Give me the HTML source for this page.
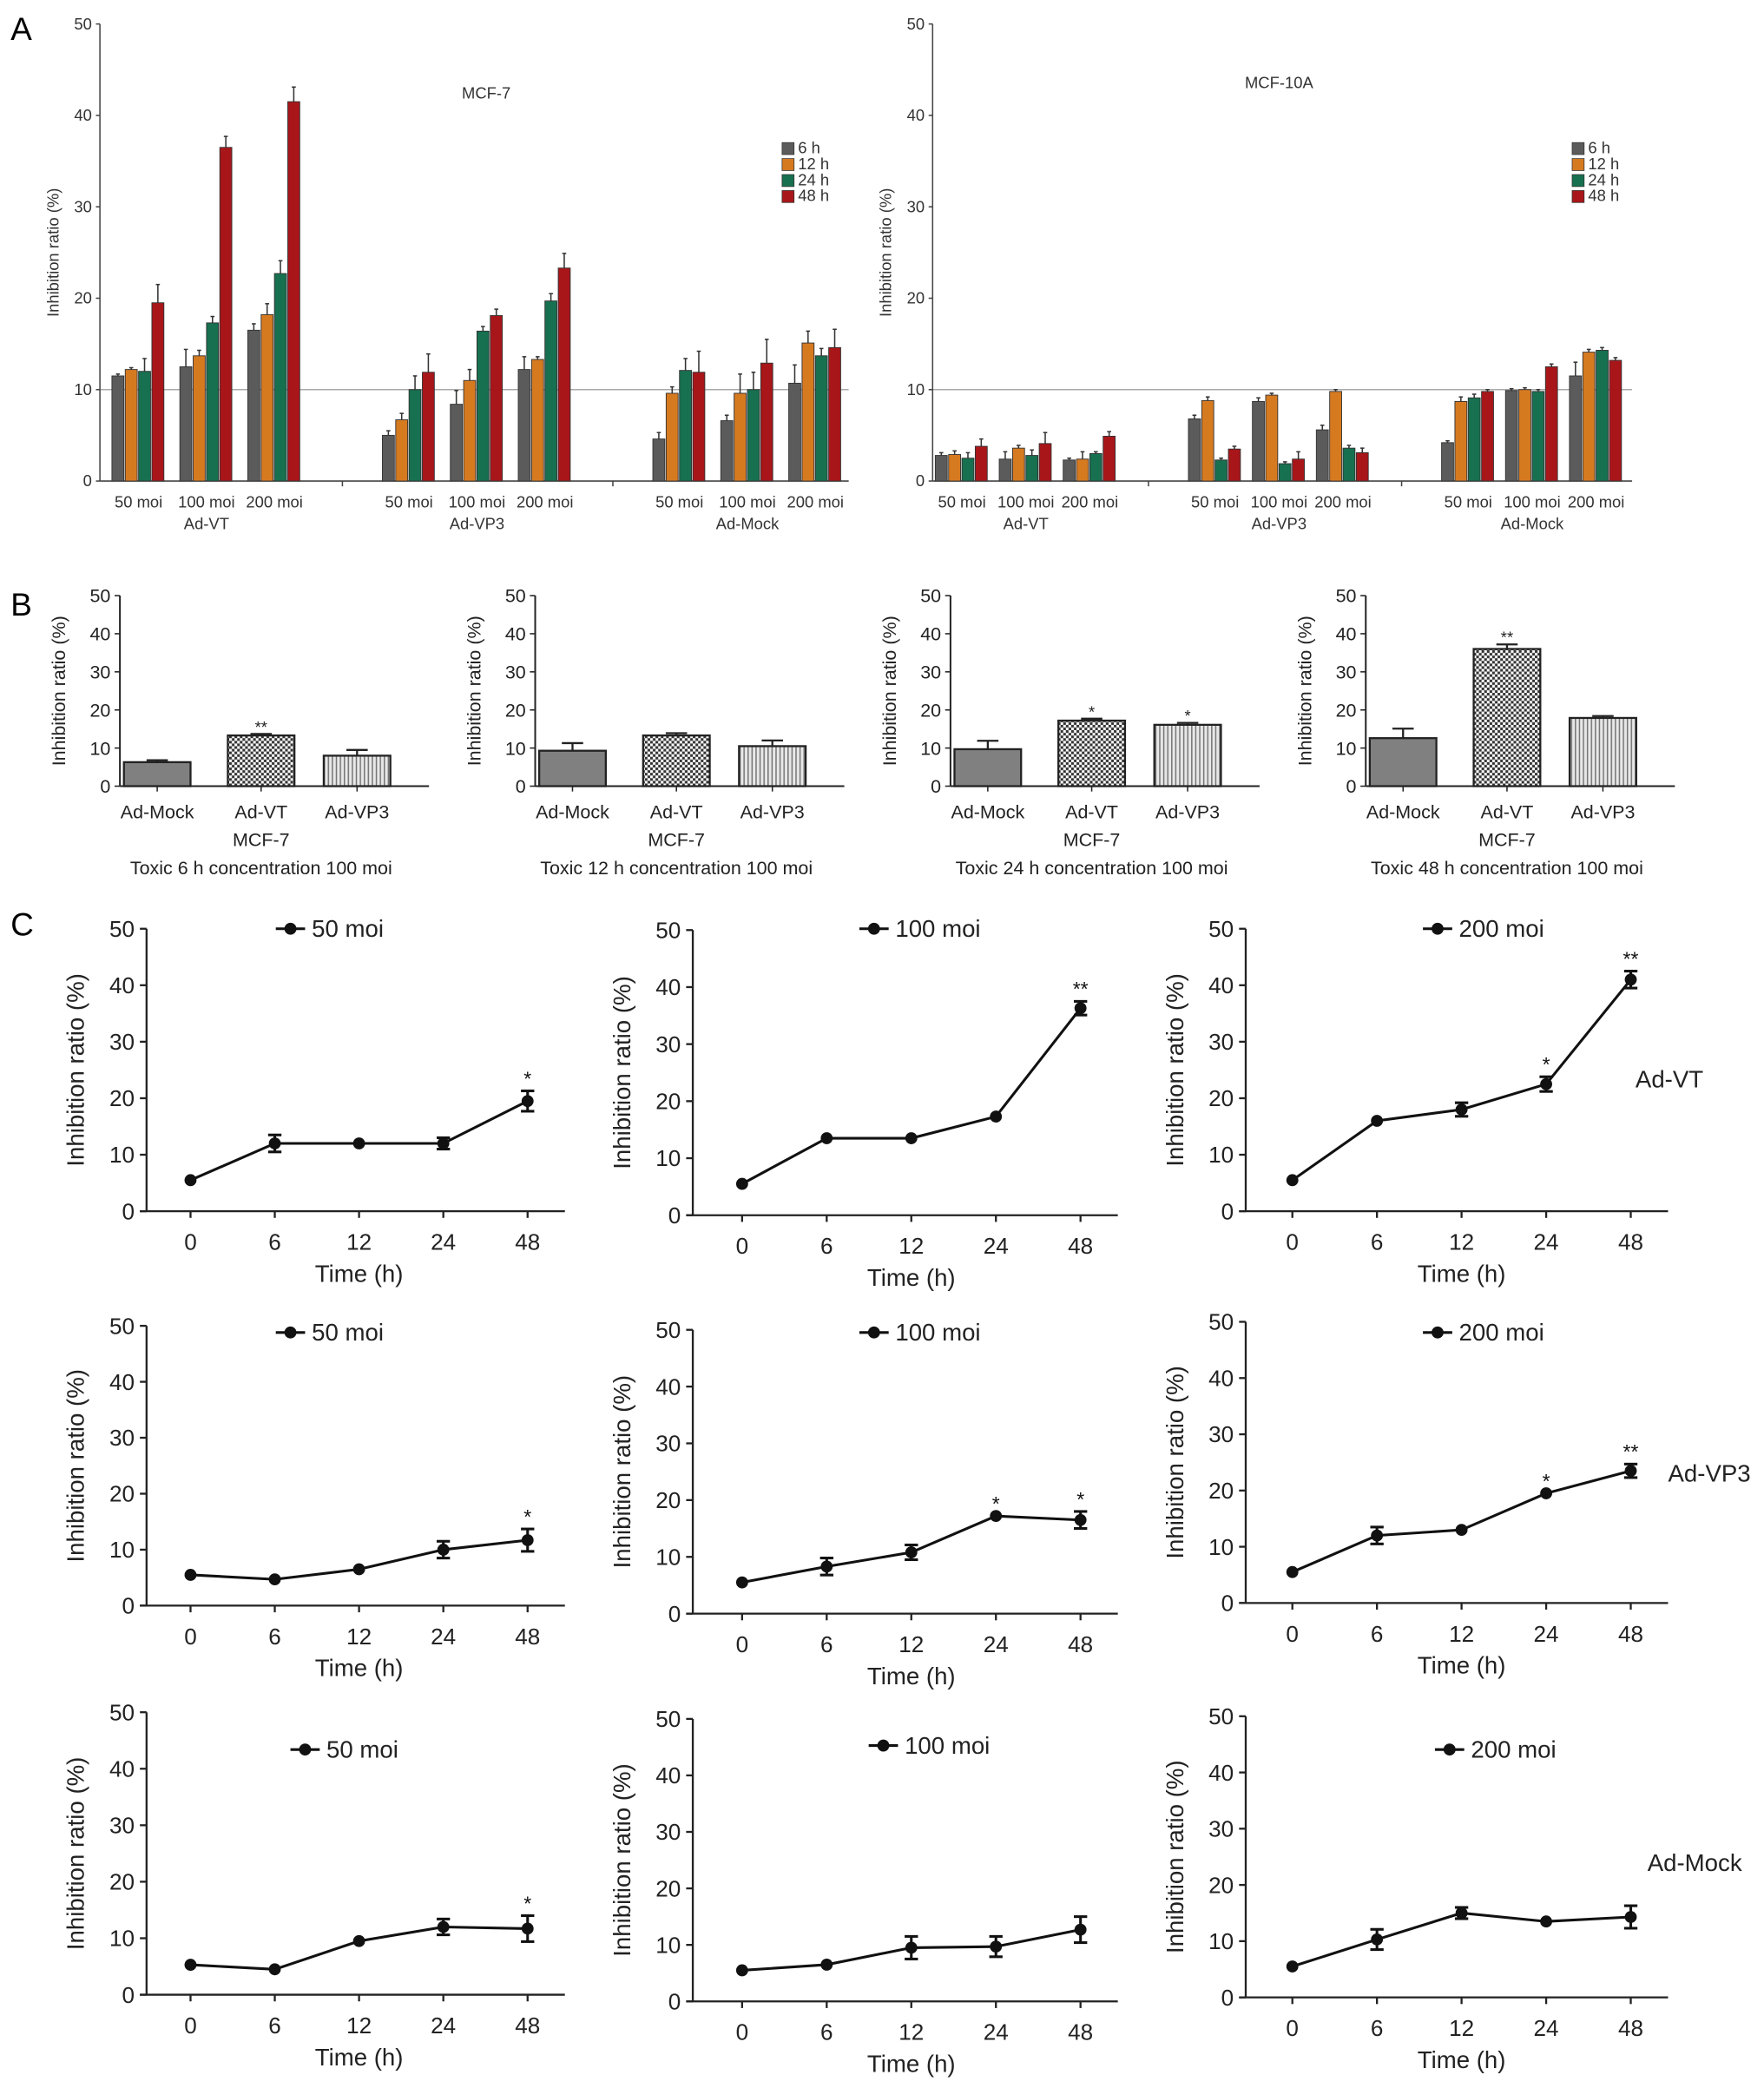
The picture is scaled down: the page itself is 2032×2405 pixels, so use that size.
<!DOCTYPE html>
<html><head><meta charset="utf-8">
<style>
html,body{margin:0;padding:0;background:#fff;}
svg{display:block;font-family:"Liberation Sans",Arial,sans-serif;}
</style></head>
<body>
<svg id="fig" width="2032" height="2405" viewBox="0 0 1324 1567" preserveAspectRatio="none" xmlns="http://www.w3.org/2000/svg">
<defs>
<pattern id="chk" width="4" height="4" patternUnits="userSpaceOnUse"><rect width="4" height="4" fill="#fff"/><rect width="2" height="2" fill="#333"/><rect x="2" y="2" width="2" height="2" fill="#333"/></pattern>
<pattern id="vst" width="3" height="4" patternUnits="userSpaceOnUse"><rect width="3" height="4" fill="#e8e8e8"/><rect width="1" height="4" fill="#777"/></pattern>
</defs>
<text x="8" y="30" font-size="24">A</text>
<text x="8" y="462" font-size="24">B</text>
<text x="8" y="702" font-size="24">C</text>
</svg>
<script>
// ---------- Panel A data ----------
const aTimes = ["6 h","12 h","24 h","48 h"];
const aGroups = ["Ad-VT","Ad-VP3","Ad-Mock"];
const aDoses = ["50 moi","100 moi","200 moi"];
const aTicks = [0,10,20,30,40,50];
const mcf7Vals = [[11.5,12.2,12,19.5],[12.5,13.7,17.3,36.5],[16.5,18.2,22.7,41.5],[5,6.7,10,11.9],[8.4,11,16.4,18.1],[12.2,13.3,19.7,23.3],[4.6,9.6,12.1,11.9],[6.6,9.6,10,12.9],[10.7,15.1,13.7,14.6]];
const mcf7Errs = [[0.2,0.2,1.4,2],[1.9,0.6,0.7,1.2],[0.7,1.2,1.4,1.6],[0.5,0.7,1.5,2],[1.5,1.2,0.5,0.7],[1.4,0.3,0.8,1.6],[0.7,0.7,1.3,2.3],[0.6,2.1,1.9,2.6],[2,1.3,0.8,2]];
const mcf10Vals = [[2.8,2.9,2.5,3.8],[2.4,3.6,2.8,4.1],[2.3,2.4,3,4.9],[6.8,8.8,2.3,3.5],[8.7,9.4,1.9,2.4],[5.6,9.8,3.6,3.1],[4.2,8.7,9.1,9.8],[9.9,10,9.8,12.5],[11.5,14.1,14.3,13.2]];
const mcf10Errs = [[0.3,0.4,0.6,0.8],[0.8,0.3,0.6,1.2],[0.2,0.8,0.2,0.5],[0.4,0.4,0.2,0.3],[0.4,0.2,0.2,0.8],[0.5,0.2,0.3,0.5],[0.2,0.5,0.4,0.2],[0.2,0.2,0.2,0.3],[1.5,0.3,0.3,0.3]];
// ---------- Panel B data ----------
const bCats = ["Ad-Mock","Ad-VT","Ad-VP3"];
const bTitles = ["Toxic 6 h concentration 100 moi","Toxic 12 h concentration 100 moi","Toxic 24 h concentration 100 moi","Toxic 48 h concentration 100 moi"];
const bVals = [[6.3,13.3,8],[9.3,13.3,10.5],[9.7,17.2,16.1],[12.6,36,17.9]];
const bErrs = [[0.5,0.4,1.5],[2,0.6,1.5],[2.2,0.5,0.5],[2.5,1.2,0.5]];
const bStars = [["","**",""],["","",""],["","*","*"],["","**",""]];
// ---------- Panel C data ----------
const cTimes = ["0","6","12","24","48"];
const cLegends = ["50 moi","100 moi","200 moi"];
const cRowLabels = ["Ad-VT","Ad-VP3","Ad-Mock"];
const cVals = [[5.5,12,12,12,19.5],[5.5,13.5,13.5,17.3,36.3],[5.5,16,18,22.5,41],[5.5,4.7,6.5,10,11.7],[5.5,8.3,10.8,17.2,16.5],[5.5,12,13,19.5,23.5],[5.3,4.5,9.5,12,11.7],[5.5,6.5,9.5,9.7,12.7],[5.5,10.3,15,13.5,14.3]];
const cErrs = [[0,1.5,0,1,1.8],[0,0,0,0,1.2],[0,0,1.2,1.3,1.5],[0,0,0,1.5,2],[0,1.5,1.3,0,1.5],[0,1.5,0,0,1.2],[0,0,0,1.4,2.3],[0,0,2,1.8,2.3],[0,1.8,1,0,2]];
const cStars = [["","","","","*"],["","","","","**"],["","","","*","**"],["","","","","*"],["","","","*","*"],["","","","*","**"],["","","","","*"],["","","","",""],["","","","",""]];

const NS="http://www.w3.org/2000/svg";
const svg=document.getElementById('fig');
function el(tag,attrs,parent,txt){const e=document.createElementNS(NS,tag);for(const k in attrs)e.setAttribute(k,attrs[k]);if(txt!==undefined)e.textContent=txt;(parent||svg).appendChild(e);return e;}

const aColors=["#5b5b5b","#d67a20","#17704f","#a8161a"];
function panelA(x0,xEnd,yTop,yBot,vals,errs,gStart,gStep,dStep,title,tx,ty,lx,ly){
  const g=el('g',{});
  
  
  const ys=v=>yBot-(v/50)*(yBot-yTop);
  el('line',{x1:x0,y1:ys(10),x2:xEnd,y2:ys(10),stroke:"#aaa","stroke-width":1},g);
  el('line',{x1:x0,y1:yTop,x2:x0,y2:yBot,stroke:"#444","stroke-width":1},g);
  el('line',{x1:x0,y1:yBot,x2:xEnd,y2:yBot,stroke:"#444","stroke-width":1},g);
  aTicks.forEach(t=>{el('line',{x1:x0-3,y1:ys(t),x2:x0,y2:ys(t),stroke:"#444"},g);
    const tl=el('text',{x:x0-6,y:ys(t)+4,"font-size":12,"text-anchor":"end",fill:"#333"},g,t);
    });
  const yl=el('text',{transform:`translate(${x0-31},${(yTop+yBot)/2}) rotate(-90)`,"font-size":12,"text-anchor":"middle",fill:"#333"},g,"Inhibition ratio (%)");
  
  for(let gi=0;gi<3;gi++){
    for(let d=0;d<3;d++){
      const c=gStart+gi*gStep+d*dStep, idx=gi*3+d;
      vals[idx].forEach((v,i)=>{
        const bx=c-20+i*10;
        const r=el('rect',{x:bx,y:ys(v),width:9,height:yBot-ys(v),fill:aColors[i],stroke:"#333","stroke-width":0.6},g);
        
        
        const ey=ys(v+errs[idx][i]);
        el('line',{x1:bx+4.5,y1:ys(v),x2:bx+4.5,y2:ey,stroke:"#333","stroke-width":1},g);
        el('line',{x1:bx+3,y1:ey,x2:bx+6,y2:ey,stroke:"#333","stroke-width":1},g);
      });
      const dl=el('text',{x:c,y:yBot+20,"font-size":12,"text-anchor":"middle",fill:"#333"},g,aDoses[d]);
      
    }
    const gl=el('text',{x:gStart+gi*gStep+dStep,y:yBot+36,"font-size":12,"text-anchor":"middle",fill:"#333"},g,aGroups[gi]);
    
    if(gi>0){const sx=gStart+gi*gStep-50;el('line',{x1:sx,y1:yBot,x2:sx,y2:yBot+4,stroke:"#444"},g);}
  }
  const tt=el('text',{x:tx,y:ty,"font-size":12,"text-anchor":"middle",fill:"#333"},g,title);
  
  aTimes.forEach((t,i)=>{
    const sw=el('rect',{x:lx,y:ly+i*12-8,width:9,height:9,fill:aColors[i],stroke:"#333","stroke-width":0.5},g);
    
    const lt=el('text',{x:lx+12,y:ly+i*12,"font-size":12,fill:"#333"},g,t);
    
  });
}
panelA(75,637,18,361,mcf7Vals,mcf7Errs,104,203,51,"MCF-7",365,74,587,115);
panelA(700,1225,18,361,mcf10Vals,mcf10Errs,722,190,48,"MCF-10A",960,66,1180,115);

// Panel B
const bFills=["#808080","url(#chk)","url(#vst)"];
for(let k=0;k<4;k++){
  const x0=90+k*311.7, yTop=447, yBot=590;
  const g=el('g',{});
  
  
  const ys=v=>yBot-(v/50)*(yBot-yTop);
  el('line',{x1:x0,y1:yTop,x2:x0,y2:yBot,stroke:"#222","stroke-width":1.3},g);
  el('line',{x1:x0,y1:yBot,x2:x0+232,y2:yBot,stroke:"#222","stroke-width":1.3},g);
  [0,10,20,30,40,50].forEach(t=>{el('line',{x1:x0-4,y1:ys(t),x2:x0,y2:ys(t),stroke:"#222"},g);
    const tl=el('text',{x:x0-7,y:ys(t)+5,"font-size":14,"text-anchor":"end",fill:"#222"},g,t);
    });
  const yl=el('text',{transform:`translate(${x0-41},${(yTop+yBot)/2}) rotate(-90)`,"font-size":14,"text-anchor":"middle",fill:"#222"},g,"Inhibition ratio (%)");
  
  const centers=[28,106,178];
  bVals[k].forEach((v,i)=>{
    const cx=x0+centers[i];
    const r=el('rect',{x:cx-25,y:ys(v),width:50,height:yBot-ys(v),fill:bFills[i],stroke:"#222","stroke-width":1.5},g);
    
    const ey=ys(v+bErrs[k][i]);
    el('line',{x1:cx,y1:ys(v),x2:cx,y2:ey,stroke:"#222","stroke-width":1.5},g);
    el('line',{x1:cx-8,y1:ey,x2:cx+8,y2:ey,stroke:"#222","stroke-width":1.5},g);
    el('line',{x1:cx,y1:yBot,x2:cx,y2:yBot+4,stroke:"#222"},g);
    if(bStars[k][i]){const s=el('text',{x:cx,y:ey-1,"font-size":12,"text-anchor":"middle",fill:"#222"},g,bStars[k][i]);
      }
    const cl=el('text',{x:cx,y:yBot+24,"font-size":14,"text-anchor":"middle",fill:"#222"},g,bCats[i]);
    
  });
  const m=el('text',{x:x0+106,y:yBot+45,"font-size":14,"text-anchor":"middle",fill:"#222"},g,"MCF-7");
  
  const t=el('text',{x:x0+106,y:yBot+66,"font-size":14,"text-anchor":"middle",fill:"#222"},g,bTitles[k]);
  
}

// Panel C
const cAxisX=[110,520,935];
const cT0=[143,557,970];
const cT48=[396,811,1224];
const cY50=[[697,698,697],[995,998,992],[1285,1290,1288]];
const cY0=[[909,912,909],[1205,1211,1203],[1497,1502,1499]];
const cLegX=[[207,645,1068],[207,645,1068],[218,652,1077]];
const cLegY=[[697,697,697],[1000,1000,1000],[1313,1310,1313]];
const cSideY=[810,1106,1398];
const cSideX=[1253,1283,1272];
for(let r=0;r<3;r++){for(let c=0;c<3;c++){
  const idx=r*3+c, ax=cAxisX[c], y0=cY0[r][c], y5=cY50[r][c];
  const g=el('g',{});
  
  
  const ys=v=>y0-(v/50)*(y0-y5);
  const xs=i=>cT0[c]+i*(cT48[c]-cT0[c])/4;
  el('line',{x1:ax,y1:y5,x2:ax,y2:y0,stroke:"#222","stroke-width":1.5},g);
  el('line',{x1:ax-5,y1:y0,x2:cT48[c]+28,y2:y0,stroke:"#222","stroke-width":1.5},g);
  [0,10,20,30,40,50].forEach(t=>{el('line',{x1:ax-5,y1:ys(t),x2:ax,y2:ys(t),stroke:"#222","stroke-width":1.5},g);
    const tl=el('text',{x:ax-9,y:ys(t)+6,"font-size":17,"text-anchor":"end",fill:"#222"},g,t);
    });
  cTimes.forEach((t,i)=>{el('line',{x1:xs(i),y1:y0,x2:xs(i),y2:y0+5,stroke:"#222","stroke-width":1.5},g);
    const tl=el('text',{x:xs(i),y:y0+29,"font-size":17,"text-anchor":"middle",fill:"#222"},g,t);
    });
  const xt=el('text',{x:(cT0[c]+cT48[c])/2,y:y0+53,"font-size":18,"text-anchor":"middle",fill:"#222"},g,"Time (h)");
  
  const yl=el('text',{transform:`translate(${ax-47},${(y0+y5)/2}) rotate(-90)`,"font-size":18,"text-anchor":"middle",fill:"#222"},g,"Inhibition ratio (%)");
  
  const pts=cVals[idx].map((v,i)=>xs(i)+','+ys(v)).join(' ');
  const pl=el('polyline',{points:pts,fill:"none",stroke:"#111","stroke-width":2},g);
  
  cVals[idx].forEach((v,i)=>{
    const e=cErrs[idx][i];
    if(e>0){const a=ys(v+e),b=ys(v-e);
      el('line',{x1:xs(i),y1:a,x2:xs(i),y2:b,stroke:"#111","stroke-width":2},g);
      el('line',{x1:xs(i)-5,y1:a,x2:xs(i)+5,y2:a,stroke:"#111","stroke-width":2},g);
      el('line',{x1:xs(i)-5,y1:b,x2:xs(i)+5,y2:b,stroke:"#111","stroke-width":2},g);}
    const p=el('circle',{cx:xs(i),cy:ys(v),r:4.5,fill:"#111"},g);
    
    if(cStars[idx][i]){const s=el('text',{x:xs(i),y:ys(v+e)-4,"font-size":15,"text-anchor":"middle",fill:"#111"},g,cStars[idx][i]);
      }
  });
  const lx=cLegX[r][c], ly=cLegY[r][c];
  el('line',{x1:lx,y1:ly,x2:lx+22,y2:ly,stroke:"#111","stroke-width":2},g);
  el('circle',{cx:lx+11,cy:ly,r:4.5,fill:"#111"},g);
  const lt=el('text',{x:lx+27,y:ly+6,"font-size":18,fill:"#222"},g,cLegends[c]);
  
}
  const sl=el('text',{x:cSideX[r],y:cSideY[r]+6,"font-size":18,"text-anchor":"middle",fill:"#222"},svg,cRowLabels[r]);
  
}
</script>
</body></html>
